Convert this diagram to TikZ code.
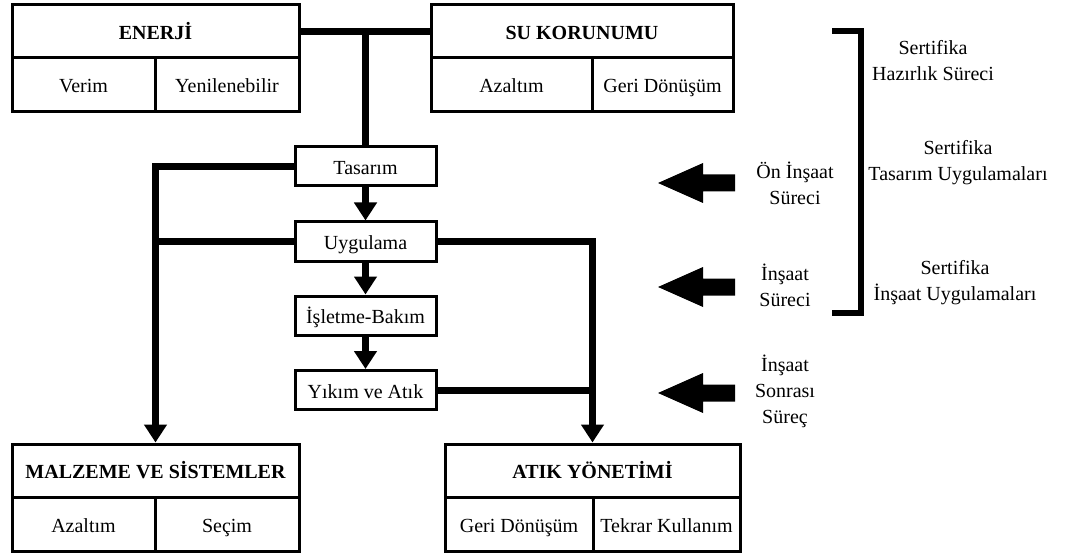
\documentclass[tikz,border=0pt]{standalone}
\usepackage{fontspec}
\setmainfont{Liberation Serif}
\usetikzlibrary{arrows.meta}

\begin{document}
\begin{tikzpicture}[x=1pt,y=-1pt,
  txt/.style={font=\fontsize{20}{26}\selectfont, align=center, inner sep=0pt},
  line/.style={txt, text height=16pt, text depth=0pt},
  cell/.style={line, draw, line width=3pt, minimum width=#1, minimum height=54pt},
  head/.style={cell=#1, minimum height=53pt, font=\fontsize{20}{26}\selectfont\bfseries},
  stage/.style={line, draw, line width=3pt, minimum width=141pt, minimum height=39pt},
  link/.style={line width=7pt},
  flow/.style={link, -{Triangle[length=18pt,width=22pt]}},
  bracket/.style={line width=6pt},
  larrow/.pic={\fill (0,0) -- ++(45,-20) -- ++(0,11.5) -- ++(32,0) -- ++(0,17)
               -- ++(-32,0) -- ++(0,11.5) -- cycle;}
]
\useasboundingbox (0,0) rectangle (1079,556);

% Category boxes with two sub-cells each
\node[head=287pt] (enerji) at (155.5,31.5) {ENERJİ};
\node[cell=143pt] (verim) at (83.5,85) {Verim};
\node[cell=144pt] (yenile) at (227,85) {Yenilenebilir};

\node[head=302pt] (su) at (582,31.5) {SU KORUNUMU};
\node[cell=161pt] (suaz) at (511.5,85) {Azaltım};
\node[cell=141pt] (sugeri) at (662.5,85) {Geri Dönüşüm};

\node[head=287pt] (malzeme) at (155.5,470.5) {MALZEME VE SİSTEMLER};
\node[cell=143pt] (maaz) at (83.5,524) {Azaltım};
\node[cell=144pt] (secim) at (227,524) {Seçim};

\node[head=295pt] (atik) at (592.5,470.5) {ATIK YÖNETİMİ};
\node[cell=148pt] (atgeri) at (519,524) {Geri Dönüşüm};
\node[cell=147pt] (tekrar) at (666.5,524) {Tekrar Kullanım};

% Life-cycle stages
\node[stage] (tasarim) at (365.5,166.5) {Tasarım};
\node[stage] (uygulama) at (365.5,241.5) {Uygulama};
\node[stage] (isletme) at (365.5,315.5) {İşletme-Bakım};
\node[stage] (yikim) at (365.5,390) {Yıkım ve Atık};

% Connectors
\draw[link] (enerji.east) -- (su.west);
\coordinate (top) at (tasarim.north |- enerji.east);
\draw[link] (top) -- (tasarim.north);
\draw[flow] (tasarim.west) -| (malzeme.north);
\draw[link] (uygulama.west) -- (uygulama.west -| malzeme.north);
\draw[flow] (uygulama.east) -| (atik.north);
\draw[link] (yikim.east) -- (yikim.east -| atik.north);
\draw[flow] (tasarim.south) -- (uygulama.north);
\draw[flow] (uygulama.south) -- (isletme.north);
\draw[flow] (isletme.south) -- (yikim.north);

% Phase arrows and labels
\pic at (658,183) {larrow};
\pic at (658,287) {larrow};
\pic at (658,393) {larrow};
\node[txt] (on) at (795,183) {Ön İnşaat\\Süreci};
\node[txt] (ins) at (785,285) {İnşaat\\Süreci};
\node[txt] (sonra) at (785,391) {İnşaat\\Sonrası\\Süreç};

% Certification bracket
\coordinate (b1) at (832,31);
\coordinate (b2) at (861,31);
\coordinate (b3) at (861,313);
\coordinate (b4) at (832,313);
\draw[bracket] (b1) -- (b2) -- (b3) -- (b4);
\node[txt] (s1) at (933,61) {Sertifika\\Hazırlık Süreci};
\node[txt] (s2) at (958,163) {Sertifika\\Tasarım Uygulamaları};
\node[txt] (s3) at (955,283) {Sertifika\\İnşaat Uygulamaları};
\end{tikzpicture}
\end{document}
